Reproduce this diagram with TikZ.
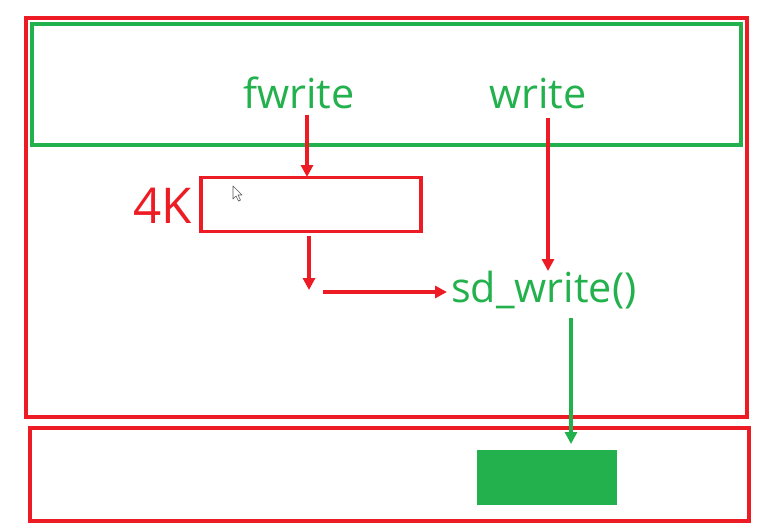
\documentclass[tikz,border=0pt]{standalone}
\usepackage{fontspec}
\setmainfont{Open Sans}
\usetikzlibrary{arrows.meta}
\definecolor{pred}{HTML}{ED1C24}
\definecolor{pgreen}{HTML}{22B14C}
\begin{document}
\begin{tikzpicture}[x=0.75pt,y=-0.75pt,
  redbox/.style={draw=pred,line width=2.4pt},
  greenbox/.style={draw=pgreen,line width=2.4pt},
  redarrow/.style={draw=pred,line width=2.3pt,-{Triangle[length=9pt,width=9pt]}},
  greenarrow/.style={draw=pgreen,line width=2.3pt,-{Triangle[length=9pt,width=9pt]}},
  gtext/.style={text=pgreen,font=\fontsize{31}{36}\selectfont,inner sep=0pt,anchor=base west},
  rtext/.style={text=pred,font=\fontsize{37}{42}\selectfont,inner sep=0pt,anchor=base west}]
\useasboundingbox (0,0) rectangle (764,526);
\fill[white] (0,0) rectangle (764,526);
% frames
\draw[redbox] (26,18) rectangle (747,417);
\draw[greenbox] (32,24) rectangle (741,145);
\draw[redbox] (30,428) rectangle (749,521);
\fill[pgreen] (477,450) rectangle (617,505);
% buffer box
\node[redbox,minimum width=165pt,minimum height=40pt,inner sep=0pt] (buf) at (311,204.5) {};
% texts
\node[gtext] (fw) at (243,108) {fwrite};
\node[gtext] (wr) at (489,108) {write};
\node[gtext] (sd) at (451,302) {sd\_write()};
\node[rtext] (k) at (133,223) {4K};
% cursor
\draw[gray!70!black,fill=white,line width=0.5pt,line join=round]
  (233,186) -- (233,199) -- (236,196) -- (238.5,201) -- (240.5,200) -- (238,195) -- (242,195) -- cycle;
% arrow coordinates
\coordinate (fwA) at (307,115);
\coordinate (fwB) at (307,177);
\coordinate (wrA) at (548,118);
\coordinate (wrB) at (548,271);
\coordinate (bA) at (309,236);
\coordinate (bB) at (309,290);
\coordinate (hA) at (323,292);
\coordinate (hB) at (447,292);
\coordinate (sdA) at (571,318);
\coordinate (sdB) at (571,444);
\draw[redarrow] (fwA) -- (fwB);
\draw[redarrow] (wrA) -- (wrB);
\draw[redarrow] (bA) -- (bB);
\draw[redarrow] (hA) -- (hB);
\draw[greenarrow] (sdA) -- (sdB);
\end{tikzpicture}
\end{document}
